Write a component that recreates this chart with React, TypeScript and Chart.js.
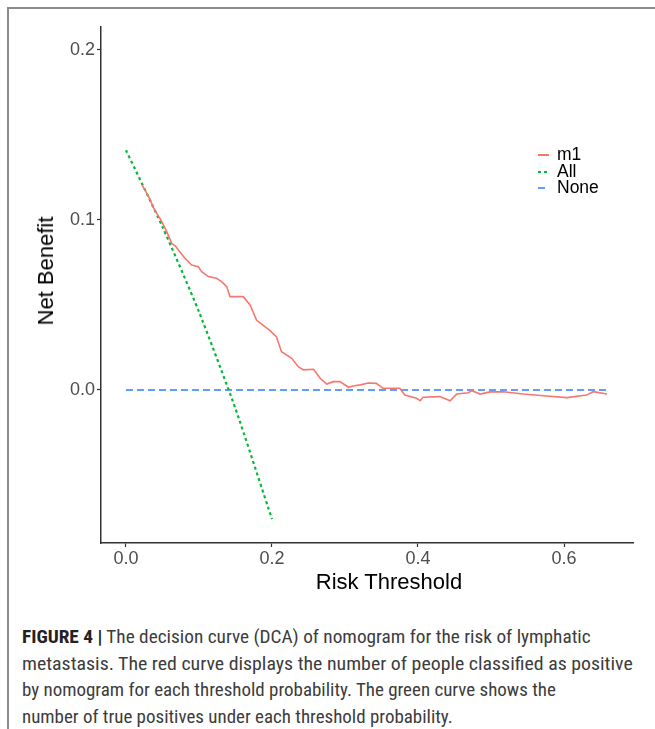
import React, { useEffect, useLayoutEffect, useRef } from "react";
import { Chart, registerables } from "chart.js";

Chart.register(...registerables);

// ---- data ----
const m1X = [
  0.022, 0.03, 0.033, 0.038, 0.042, 0.049, 0.056, 0.0626, 0.068, 0.0717, 0.0808, 0.09, 0.099, 0.1037,
  0.1128, 0.124, 0.131, 0.138, 0.1425, 0.1516, 0.1607, 0.17, 0.179, 0.188, 0.197, 0.206, 0.213, 0.227,
  0.236, 0.243, 0.257, 0.266, 0.275, 0.284, 0.293, 0.305, 0.311, 0.321, 0.332, 0.343, 0.352, 0.366,
  0.375, 0.382, 0.398, 0.403, 0.407, 0.43, 0.444, 0.453, 0.469, 0.474, 0.485, 0.499, 0.517, 0.544,
  0.576, 0.604, 0.631, 0.64, 0.659,
];
const m1Y = [
  0.1206, 0.1145, 0.112, 0.107, 0.104, 0.099, 0.093, 0.0863, 0.0845, 0.0824, 0.0775, 0.0735, 0.0725, 0.0696,
  0.0667, 0.0657, 0.0637, 0.0608, 0.0549, 0.0549, 0.0549, 0.05, 0.041, 0.038, 0.035, 0.0314, 0.0225, 0.0186,
  0.0137, 0.0118, 0.0122, 0.0069, 0.0035, 0.0049, 0.0049, 0.0016, 0.0023, 0.003, 0.0041, 0.0039, 0.001, 0.001,
  0.001, -0.003, -0.0049, -0.0063, -0.0043, -0.0039, -0.0063, -0.0024, -0.0016, -0.0004, -0.0024, -0.0011, -0.001, -0.0024,
  -0.0035, -0.0045, -0.003, -0.001, -0.0024,
];
const allX = [0, 0.05, 0.1, 0.15, 0.2];
const allY = [0.141, 0.096, 0.046, -0.011, -0.076];
const noneX = [0, 0.661];
const noneY = [0, 0];

const xTicks = [0, 0.2, 0.4, 0.6];
const yTicks = [0, 0.1, 0.2];
const xRange = [-0.0342, 0.6945];
const yRange = [-0.09, 0.2135];

const seriesNames = ["m1", "All", "None"];
const seriesColors = ["#F8766D", "#00BA38", "#619CFF"];
const xTitle = "Risk Threshold";
const yTitle = "Net Benefit";

const captionBold = "FIGURE 4 |";
const captionLines = [
  " The decision curve (DCA) of nomogram for the risk of lymphatic",
  "metastasis. The red curve displays the number of people classified as positive",
  "by nomogram for each threshold probability. The green curve shows the",
  "number of true positives under each threshold probability.",
];
const captionWidths = [569, 611, 534, 431];

const toPoints = (xs: number[], ys: number[]) => xs.map((x, i) => ({ x, y: ys[i] }));

const FONT = "'Liberation Sans', Arial, Helvetica, sans-serif";

export default function App() {
  const canvasRef = useRef<HTMLCanvasElement | null>(null);
  const lineRefs = useRef<(HTMLDivElement | null)[]>([]);

  useEffect(() => {
    const canvas = canvasRef.current;
    if (!canvas) return;
    const chart = new Chart(canvas, {
      type: "line",
      data: {
        datasets: [
          {
            label: seriesNames[0],
            data: toPoints(m1X, m1Y),
            borderColor: seriesColors[0],
            borderWidth: 1.6,
            pointRadius: 0,
            tension: 0,
          },
          {
            label: seriesNames[1],
            data: toPoints(allX, allY),
            borderColor: seriesColors[1],
            borderWidth: 2.2,
            borderDash: [3, 3],
            pointRadius: 0,
            tension: 0.2,
          },
          {
            label: seriesNames[2],
            data: toPoints(noneX, noneY),
            borderColor: seriesColors[2],
            borderWidth: 2,
            borderDash: [7, 4],
            pointRadius: 0,
            tension: 0,
          },
        ],
      },
      options: {
        responsive: false,
        animation: false,
        devicePixelRatio: 1,
        layout: { padding: { left: 10, right: 22, top: 27, bottom: 0 } },
        plugins: { legend: { display: false }, tooltip: { enabled: false } },
        scales: {
          x: {
            type: "linear",
            min: xRange[0],
            max: xRange[1],
            afterBuildTicks: (s: any) => {
              s.ticks = xTicks.map((v) => ({ value: v }));
            },
            afterFit: (s: any) => {
              s.height = 57;
            },
            ticks: {
              callback: (v: any) => Number(v).toFixed(1),
              font: { family: FONT, size: 18 },
              color: "#4d4d4d",
              padding: 1,
              maxRotation: 0,
            },
            grid: {
              drawOnChartArea: false,
              drawTicks: true,
              tickLength: 4,
              tickColor: "#333",
              tickWidth: 1.2,
            },
            border: { display: true, color: "#333", width: 1.5 },
          },
          y: {
            type: "linear",
            min: yRange[0],
            max: yRange[1],
            afterBuildTicks: (s: any) => {
              s.ticks = yTicks.map((v) => ({ value: v }));
            },
            afterFit: (s: any) => {
              s.width = 91;
            },
            ticks: {
              callback: (v: any) => Number(v).toFixed(1),
              font: { family: FONT, size: 18 },
              color: "#4d4d4d",
              padding: 2,
            },
            grid: {
              drawOnChartArea: false,
              drawTicks: true,
              tickLength: 4,
              tickColor: "#333",
              tickWidth: 1.2,
            },
            border: { display: true, color: "#333", width: 1.5 },
          },
        },
      },
    } as any);
    return () => chart.destroy();
  }, []);

  useLayoutEffect(() => {
    lineRefs.current.forEach((el, i) => {
      if (!el) return;
      el.style.transform = "none";
      const w = el.scrollWidth;
      if (w > 0) el.style.transform = `scaleX(${captionWidths[i] / w})`;
    });
  }, []);

  const legendTop = [145, 162, 178];

  return (
    <div style={{ position: "absolute", left: 0, top: 0, width: 655, height: 729, background: "#fff", overflow: "hidden" }}>
      <div
        style={{
          position: "absolute",
          left: 7,
          top: 7,
          width: 660,
          height: 740,
          borderLeft: "2px solid #8c8c8c",
          borderTop: "2px solid #8c8c8c",
          boxSizing: "border-box",
        }}
      />
      <canvas ref={canvasRef} width={655} height={600} style={{ position: "absolute", left: 0, top: 0, width: 655, height: 600 }} />
      {/* axis titles */}
      <div
        style={{
          position: "absolute",
          left: 46,
          top: 271,
          transform: "translate(-50%, -50%) rotate(-90deg)",
          fontFamily: FONT,
          fontSize: 22,
          color: "#000",
          whiteSpace: "nowrap",
        }}
      >
        {yTitle}
      </div>
      <div
        style={{
          position: "absolute",
          left: 389,
          top: 582,
          transform: "translate(-50%, -50%)",
          fontFamily: FONT,
          fontSize: 22,
          color: "#000",
          whiteSpace: "nowrap",
        }}
      >
        {xTitle}
      </div>
      {/* legend */}
      {seriesNames.map((name, i) => (
        <div key={name} style={{ position: "absolute", left: 536, top: legendTop[i], height: 18, display: "flex", alignItems: "center" }}>
          <svg width={16} height={18} style={{ display: "block" }}>
            <line
              x1={2}
              x2={13}
              y1={10}
              y2={10}
              stroke={seriesColors[i]}
              strokeWidth={2}
              strokeDasharray={i === 0 ? undefined : i === 1 ? "3 3" : "7 4"}
            />
          </svg>
          <span style={{ marginLeft: 5, fontFamily: FONT, fontSize: 17.5, lineHeight: "18px", color: "#000" }}>{name}</span>
        </div>
      ))}
      {/* caption */}
      {captionLines.map((line, i) => (
        <div
          key={i}
          ref={(el) => {
            lineRefs.current[i] = el;
          }}
          style={{
            position: "absolute",
            left: 22,
            top: 624 + i * 26.5,
            whiteSpace: "nowrap",
            display: "inline-block",
            transformOrigin: "0 0",
            fontFamily: "'Liberation Sans Narrow', 'Roboto Condensed', 'Arial Narrow', 'Liberation Sans', sans-serif",
            fontSize: 19,
            lineHeight: "26px",
            color: "#3c3c3c",
          }}
        >
          {i === 0 ? <b style={{ color: "#222" }}>{captionBold}</b> : null}
          {line}
        </div>
      ))}
    </div>
  );
}
